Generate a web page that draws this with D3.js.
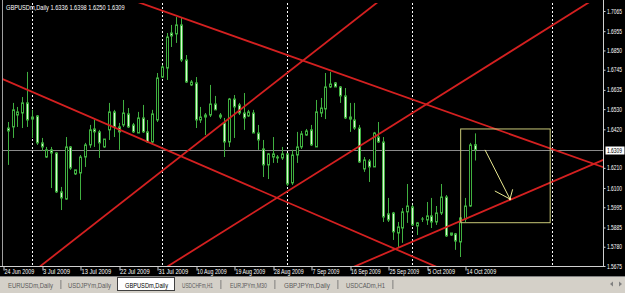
<!DOCTYPE html>
<html><head><meta charset="utf-8">
<script src="https://cdn.jsdelivr.net/npm/d3@7"></script>
<style>html,body{margin:0;padding:0;background:#000;overflow:hidden}</style>
</head><body><svg id="c" width="625" height="293"></svg>
<script>
const symbol = "GBPUSDm,Daily";
const lastQuote = [1.6336, 1.6398, 1.6250, 1.6309];
// bars 1..98 (bar 0 = 24 Jun 2009), daily with Sunday bars
const opens = [1.6427,1.6433,1.6498,1.6509,1.6564,1.6476,1.6493,1.6346,1.6269,1.6308,1.6291,1.6079,1.6040,1.6324,1.6177,1.6182,1.6269,1.6335,1.6422,1.6406,1.6324,1.6417,1.6515,1.6433,1.6444,1.6504,1.6444,1.6400,1.6482,1.6406,1.6351,1.6471,1.6705,1.6754,1.6945,1.6940,1.6989,1.6798,1.6662,1.6673,1.6471,1.6487,1.6498,1.6558,1.6498,1.6455,1.6351,1.6585,1.6553,1.6509,1.6493,1.6509,1.6400,1.6313,1.6226,1.6269,1.6269,1.6264,1.6286,1.6128,1.6280,1.6324,1.6389,1.6417,1.6324,1.6509,1.6531,1.6651,1.6673,1.6651,1.6602,1.6487,1.6471,1.6427,1.6204,1.6247,1.6215,1.6378,1.6351,1.5959,1.5964,1.5855,1.5882,1.5970,1.5997,1.5893,1.5931,1.5926,1.5948,1.5915,1.5964,1.6051,1.5844,1.5850,1.5806,1.5931,1.6002,1.6336];
const highs = [1.6460,1.6564,1.6542,1.6596,1.6733,1.6526,1.6498,1.6373,1.6324,1.6324,1.6295,1.6106,1.6378,1.6329,1.6199,1.6280,1.6346,1.6444,1.6471,1.6417,1.6367,1.6564,1.6526,1.6455,1.6580,1.6536,1.6455,1.6515,1.6553,1.6471,1.6526,1.6727,1.6771,1.6945,1.6989,1.7032,1.7032,1.6825,1.6689,1.6705,1.6542,1.6509,1.6662,1.6602,1.6509,1.6482,1.6591,1.6607,1.6564,1.6618,1.6526,1.6526,1.6444,1.6362,1.6291,1.6378,1.6280,1.6324,1.6291,1.6308,1.6406,1.6411,1.6422,1.6444,1.6580,1.6591,1.6727,1.6733,1.6678,1.6656,1.6645,1.6564,1.6564,1.6444,1.6269,1.6258,1.6406,1.6460,1.6378,1.6046,1.5970,1.5915,1.5991,1.6122,1.6008,1.5915,1.5942,1.6024,1.6046,1.6002,1.6122,1.6062,1.5855,1.5855,1.5942,1.6046,1.6346,1.6398];
const lows = [1.6226,1.6373,1.6433,1.6427,1.6433,1.6373,1.6335,1.6302,1.6264,1.6100,1.6073,1.5980,1.6035,1.6199,1.6171,1.6035,1.6215,1.6319,1.6324,1.6264,1.6319,1.6362,1.6378,1.6308,1.6433,1.6427,1.6400,1.6400,1.6400,1.6346,1.6346,1.6460,1.6700,1.6689,1.6869,1.6891,1.6787,1.6673,1.6656,1.6427,1.6455,1.6389,1.6487,1.6526,1.6476,1.6269,1.6324,1.6373,1.6498,1.6417,1.6487,1.6400,1.6308,1.6160,1.6149,1.6237,1.6237,1.6253,1.6111,1.6117,1.6237,1.6313,1.6384,1.6329,1.6324,1.6487,1.6476,1.6645,1.6651,1.6564,1.6476,1.6406,1.6417,1.6237,1.6188,1.6133,1.6215,1.6346,1.5915,1.5915,1.5817,1.5773,1.5801,1.5910,1.5893,1.5844,1.5915,1.5899,1.5882,1.5899,1.5953,1.5833,1.5839,1.5763,1.5724,1.5915,1.5997,1.6250];
const closes = [1.6411,1.6526,1.6515,1.6564,1.6471,1.6487,1.6346,1.6324,1.6308,1.6291,1.6079,1.6046,1.6324,1.6209,1.6199,1.6269,1.6335,1.6417,1.6406,1.6346,1.6367,1.6515,1.6433,1.6406,1.6509,1.6433,1.6406,1.6482,1.6406,1.6351,1.6504,1.6700,1.6760,1.6923,1.6929,1.6989,1.6798,1.6678,1.6678,1.6471,1.6487,1.6498,1.6558,1.6526,1.6487,1.6351,1.6585,1.6542,1.6509,1.6482,1.6515,1.6400,1.6362,1.6226,1.6286,1.6286,1.6264,1.6286,1.6122,1.6280,1.6324,1.6395,1.6411,1.6335,1.6515,1.6536,1.6651,1.6667,1.6651,1.6602,1.6482,1.6476,1.6427,1.6242,1.6253,1.6215,1.6400,1.6351,1.5942,1.5926,1.5861,1.5888,1.5970,1.6002,1.5899,1.5910,1.5931,1.5948,1.5915,1.5964,1.6051,1.5839,1.5855,1.5811,1.5937,1.6002,1.6335,1.6309];

const dateTickBars = [0,8,16,24,32,40,48,56,64,72,80,88,96];
const dateTickLabels = ["24 Jun 2009","3 Jul 2009","13 Jul 2009","22 Jul 2009","31 Jul 2009","10 Aug 2009","19 Aug 2009","28 Aug 2009","7 Sep 2009","16 Sep 2009","25 Sep 2009","5 Oct 2009","14 Oct 2009"];
const priceTicks = [1.7065,1.6955,1.6850,1.6745,1.6635,1.6530,1.6420,1.6210,1.6100,1.5995,1.5885,1.5780,1.5675];
const monthSeparatorBars = [6,33,59,85,114];
// trend lines: [bar1, price1, bar2, price2]
const trendLines = [
  [32.62,1.7071,115.74,1.6297],
  [-0.62,1.6700,89.14,1.5681],
  [8.10,1.5681,49.25,1.6526],
  [34.70,1.5681,121.56,1.7109],
  [90.81,1.5872,124.68,1.6253]
];
const boxCorners = [95.1,1.6422,113.7,1.5911];
const arrowShaft = [100.16,1.6308,105.35,1.6040];
const arrowWings = [[102.2,1.6084],[105.9,1.6093]];
const tabs = ["EURUSDm,Daily","USDJPYm,Daily","GBPUSDm,Daily","USDCHFm,H1","EURJPYm,M30","GBPJPYm,Daily","USDCADm,H1"];
const activeTab = "GBPUSDm,Daily";

const svg = d3.select("#c");
const W = 625, H = 293;
const plot = {l:3, r:603, t:3, b:266};
const x = d3.scaleLinear().domain([0,96]).range([3,465]);
const y = d3.scaleLinear().domain([1.5675,1.7065]).range([266,11]);
const font = "'Liberation Sans', Arial, sans-serif";

function fitText(parent, str, px, py, size, width, fill){
  const t = parent.append("text").attr("font-family",font).attr("font-size",size).attr("fill",fill).text(str);
  const w = t.node().getComputedTextLength();
  const k = width / w;
  t.attr("transform",`translate(${px},${py}) scale(${k},1)`);
  return t;
}

svg.append("rect").attr("width",W).attr("height",H).attr("fill","#000");

const defs = svg.append("defs");
defs.append("clipPath").attr("id","pc").append("rect")
  .attr("x",plot.l).attr("y",plot.t).attr("width",plot.r-plot.l).attr("height",plot.b-plot.t);

const g = svg.append("g").attr("clip-path","url(#pc)");

g.selectAll("line.sep").data(monthSeparatorBars).join("line")
  .attr("x1",d=>Math.round(x(d))+0.5).attr("x2",d=>Math.round(x(d))+0.5)
  .attr("y1",plot.t).attr("y2",plot.b)
  .attr("stroke","#fff").attr("stroke-width",1).attr("stroke-dasharray","2,2");

g.append("line").attr("x1",plot.l).attr("x2",plot.r)
  .attr("y1",Math.round(y(lastQuote[3]))+0.5).attr("y2",Math.round(y(lastQuote[3]))+0.5)
  .attr("stroke","#8a8a8a").attr("stroke-width",1);

const bars = opens.map((o,k)=>({i:k+1,o,h:highs[k],l:lows[k],c:closes[k]}));
const green = "#40b040";
const cg = g.append("g");
bars.forEach(d=>{
  const xc = Math.round(x(d.i))+0.5;
  cg.append("line").attr("x1",xc).attr("x2",xc).attr("y1",y(d.h)).attr("y2",y(d.l))
    .attr("stroke",green).attr("stroke-width",1);
  const top = y(Math.max(d.o,d.c)), bot = y(Math.min(d.o,d.c));
  cg.append("rect").attr("x",xc-1).attr("width",2)
    .attr("y",top).attr("height",Math.max(0.01,bot-top))
    .attr("fill", d.c < d.o ? "#dcf7d4" : "#000")
    .attr("stroke",green).attr("stroke-width",1);
});

const tl = g.append("g");
trendLines.forEach(([b1,p1,b2,p2])=>{
  const x1=x(b1),y1=y(p1),x2=x(b2),y2=y(p2);
  const s=(y2-y1)/(x2-x1);
  const xa=-20, xb=640;
  tl.append("line").attr("x1",xa).attr("y1",y1+s*(xa-x1)).attr("x2",xb).attr("y2",y1+s*(xb-x1))
    .attr("stroke","#d42020").attr("stroke-width",1.8);
});

g.append("rect").attr("x",x(boxCorners[0])).attr("y",y(boxCorners[1]))
  .attr("width",x(boxCorners[2])-x(boxCorners[0])).attr("height",y(boxCorners[3])-y(boxCorners[1]))
  .attr("fill","none").attr("stroke","#c8c878").attr("stroke-width",1);

const ax2=x(arrowShaft[2]), ay2=y(arrowShaft[3]);
g.append("line").attr("x1",x(arrowShaft[0])).attr("y1",y(arrowShaft[1])).attr("x2",ax2).attr("y2",ay2)
  .attr("stroke","#e8e890").attr("stroke-width",1);
arrowWings.forEach(([b,p])=>{
  g.append("line").attr("x1",x(b)).attr("y1",y(p)).attr("x2",ax2).attr("y2",ay2)
    .attr("stroke","#e8e890").attr("stroke-width",1);
});
g.append("circle").attr("cx",ax2).attr("cy",ay2).attr("r",1.2).attr("fill","#f0f0a0");

svg.append("line").attr("x1",2.5).attr("x2",2.5).attr("y1",0).attr("y2",plot.b).attr("stroke","#a0a0a0");
svg.append("line").attr("x1",plot.r+0.5).attr("x2",plot.r+0.5).attr("y1",0).attr("y2",plot.b+0.5).attr("stroke","#d0d0d0");
svg.append("line").attr("x1",0).attr("x2",plot.r+1).attr("y1",plot.b+0.5).attr("y2",plot.b+0.5).attr("stroke","#d0d0d0");

fitText(svg, symbol+"  "+lastQuote.map(v=>v.toFixed(4)).join(" "), 6, 10, 7, 119, "#fff");

const ya = svg.append("g").attr("transform",`translate(${plot.r+0.5},0)`)
  .call(d3.axisRight(y).tickValues(priceTicks).tickFormat("").tickSize(2));
ya.select(".domain").remove();
ya.selectAll("line").attr("stroke","#d0d0d0");
priceTicks.forEach(p=>{
  fitText(svg, d3.format(".4f")(p), plot.r+4, y(p)+2.5, 7, 15, "#fff");
});

const cy = Math.round(y(lastQuote[3]))+0.5;
svg.append("rect").attr("x",plot.r+2.5).attr("y",cy-4).attr("width",19).attr("height",8)
  .attr("fill","#fff");
fitText(svg, lastQuote[3].toFixed(4), plot.r+4, cy+2.5, 7, 15, "#000");

const xa = svg.append("g").attr("transform",`translate(0,${plot.b+0.5})`)
  .call(d3.axisBottom(x).tickValues(dateTickBars).tickFormat("").tickSize(4));
xa.select(".domain").remove();
xa.selectAll("line").attr("stroke","#d0d0d0").attr("transform",d=>`translate(${Math.round(x(d))+0.5-x(d)},0)`);
dateTickBars.forEach((b,k)=>{
  const s = dateTickLabels[k];
  fitText(svg, s, x(b)+1.5, 273.5, 7, s.length*2.7, "#fff");
});

const tb = svg.append("g");
tb.append("rect").attr("x",0).attr("y",276).attr("width",W).attr("height",H-276).attr("fill","#d4d0c8");
tb.append("line").attr("x1",0).attr("x2",W).attr("y1",276.5).attr("y2",276.5).attr("stroke","#808080");
const tabX = [8,68,125,182,230,284,346];
const tabW = [45,43,43,31,37,46,39];
tabs.forEach((t,k)=>{
  const act = t===activeTab;
  if(act){
    tb.append("rect").attr("x",tabX[k]-7.5).attr("y",277.5).attr("width",tabW[k]+14).attr("height",13)
      .attr("fill","#fff").attr("stroke","#404040").attr("stroke-width",1);
  }
  fitText(tb, t, tabX[k], 287.5, 8, tabW[k], act?"#000":"#5a5a5a");
  const nxt = tabs[k+1];
  if(!act && nxt!==activeTab){
    tb.append("rect").attr("x",tabX[k]+tabW[k]+7.5).attr("y",280).attr("width",0.8).attr("height",9).attr("fill","#6a6a6a");
  }
});
tb.append("path").attr("d","M610,284 l3,-2.5 v5 z").attr("fill","#808080");
tb.append("path").attr("d","M622,284 l-3,-2.5 v5 z").attr("fill","#808080");
</script></body></html>
